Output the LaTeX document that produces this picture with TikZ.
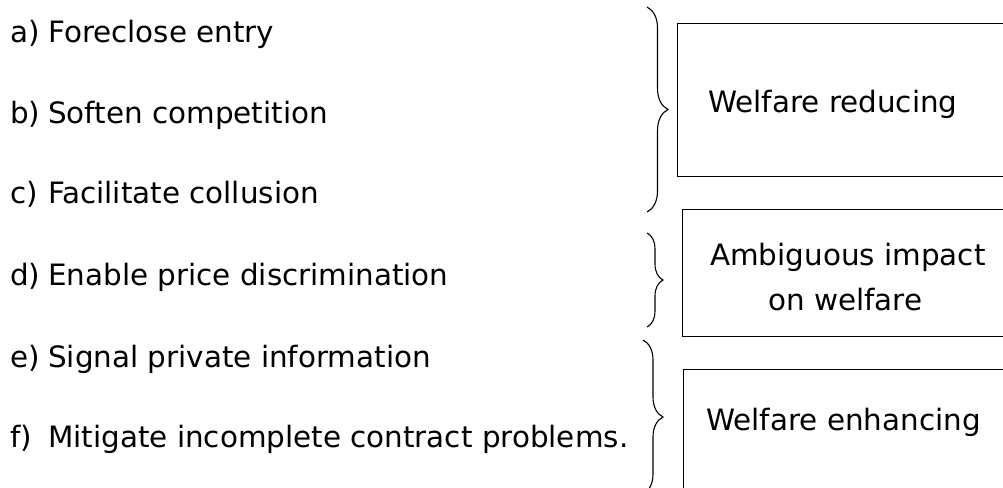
\documentclass[tikz,border=0pt]{standalone}
\usepackage{fontspec}
\setmainfont{DejaVu Sans}
\usetikzlibrary{decorations.pathreplacing}

\begin{document}
\begin{tikzpicture}[x=1pt, y=-1pt,
  txt/.style={anchor=base west, inner sep=0pt, font=\fontsize{29.4}{45}\selectfont},
  item/.style={txt},
  panel/.style={draw, line width=1.1pt, rectangle, anchor=north west, inner sep=0pt},
  bracefig/.style={draw, line width=1.1pt, decorate,
    decoration={brace, amplitude=#1}}
]
\useasboundingbox (0,0) rectangle (1003,487);
\clip (0,0) rectangle (1003,487);

% list of effects
\newcommand{\lbl}[1]{\makebox[38pt][l]{#1}}
\node[item] (a) at (10,42)  {\lbl{a)}Foreclose entry};
\node[item] (b) at (10,123) {\lbl{b)}Soften competition};
\node[item] (c) at (10,203) {\lbl{c)}Facilitate collusion};
\node[item] (d) at (10,285) {\lbl{d)}Enable price discrimination};
\node[item] (e) at (10,367) {\lbl{e)}Signal private information};
\node[item] (f) at (10,447) {\lbl{f)}Mitigate incomplete contract problems.};

% outcome boxes
\node[panel, minimum width=360pt, minimum height=153pt] (r1) at (677,23) {};
\node[panel, minimum width=360pt, minimum height=127pt] (r2) at (682,209) {};
\node[panel, minimum width=360pt, minimum height=140pt] (r3) at (683,369) {};

\node[txt] (t1) at (708,112) {Welfare reducing};
\node[txt] (t2a) at (710,265) {Ambiguous impact};
\node[txt] (t2b) at (768,310) {on welfare};
\node[txt] (t3) at (706,430) {Welfare enhancing};

% braces grouping the effects
\coordinate (g1top) at (647,7);
\coordinate (g1bot) at (647,212);
\coordinate (g2top) at (647,233);
\coordinate (g2bot) at (647,327);
\coordinate (g3top) at (643,340);
\coordinate (g3bot) at (643,494);

\draw[bracefig=21pt] (g1top) -- (g1bot);
\draw[bracefig=16pt] (g2top) -- (g2bot);
\draw[bracefig=20pt] (g3top) -- (g3bot);
\end{tikzpicture}
\end{document}
